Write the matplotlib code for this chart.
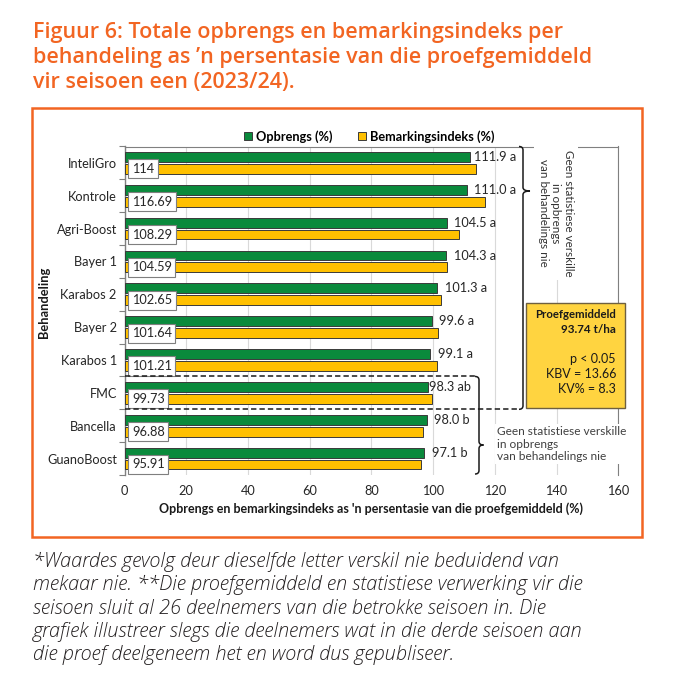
import matplotlib
matplotlib.use("Agg")
import matplotlib.pyplot as plt
from matplotlib.patches import Rectangle, PathPatch
from matplotlib.path import Path
from matplotlib.font_manager import FontProperties
import numpy as np

# ---------------- data ----------------
categories = ["InteliGro", "Kontrole", "Agri-Boost", "Bayer 1", "Karabos 2",
              "Bayer 2", "Karabos 1", "FMC", "Bancella", "GuanoBoost"]
opbrengs = [111.9, 111.0, 104.5, 104.3, 101.3, 99.6, 99.1, 98.3, 98.0, 97.1]
letters = ["a", "a", "a", "a", "a", "a", "a", "ab", "b", "b"]
bemarking = [114, 116.69, 108.29, 104.59, 102.65, 101.64, 101.21, 99.73, 96.88, 95.91]
bemarking_labels = ["114", "116.69", "108.29", "104.59", "102.65", "101.64",
                    "101.21", "99.73", "96.88", "95.91"]
xticks = [0, 20, 40, 60, 80, 100, 120, 140, 160]

title_lines = ["Figuur 6: Totale opbrengs en bemarkingsindeks per",
               "behandeling as \u2019n persentasie van die proefgemiddeld",
               "vir seisoen een (2023/24)."]
foot_lines = ["*Waardes gevolg deur dieselfde letter verskil nie beduidend van",
              "mekaar nie. **Die proefgemiddeld en statistiese verwerking vir die",
              "seisoen sluit al 26 deelnemers van die betrokke seisoen in. Die",
              "grafiek illustreer slegs die deelnemers wat in die derde seisoen aan",
              "die proef deelgeneem het en word dus gepubliseer."]

W, H = 675, 696
ORANGE = "#F26522"
GREEN = "#0A8A3C"
YELLOW = "#FFC000"

plt.rcParams['font.family'] = ['Lato', 'DejaVu Sans']

fig = plt.figure(figsize=(W / 100, H / 100), dpi=100)
renderer = fig.canvas.get_renderer()


def P(x, y):
    return (x / W, 1 - y / H)


def fit_size(text, target_px, **fp):
    prop = FontProperties(size=10, **fp)
    w = renderer.get_text_width_height_descent(text, prop, False)[0]
    return 10 * target_px / w


# orange frame
fig.patches.append(Rectangle(P(32, 537), (642 - 32) / W, (537 - 108) / H,
                             transform=fig.transFigure, fill=False,
                             ec=ORANGE, lw=1.8, zorder=0))

# title
tfp = dict(family=['Open Sans', 'DejaVu Sans'], weight='semibold')
tsize = min(fit_size(title_lines[0], 607 - 34, **tfp), 15.5)
for i, line in enumerate(title_lines):
    fig.text(*P(33, 38 + 25 * i), line, color=ORANGE, fontsize=tsize,
             ha='left', va='baseline', **tfp)

# footnote
ffp = dict(family=['Open Sans', 'DejaVu Sans'], weight='light', style='italic')
fsize = min(fit_size(foot_lines[0], 604 - 34, **ffp), 14.3)
for i, line in enumerate(foot_lines):
    fig.text(*P(33, 567 + 23.3 * i), line, color="#231F20", fontsize=fsize,
             ha='left', va='baseline', **ffp)

# axes
ax_l, ax_r, ax_t, ax_b = 124.5, 618.3, 146.5, 475
ax = fig.add_axes([ax_l / W, 1 - ax_b / H, (ax_r - ax_l) / W, (ax_b - ax_t) / H])

y = np.arange(len(categories))
hb = 0.30
off = 0.18
gb = ax.barh(y - off, opbrengs, height=hb, color=GREEN, edgecolor="#3a3a3a",
             lw=0.7, label="Opbrengs (%)", zorder=3)
yb = ax.barh(y + off, bemarking, height=hb, color=YELLOW, edgecolor="#3a3a3a",
             lw=0.7, label="Bemarkingsindeks (%)", zorder=3)

ax.set_xlim(0, 160)
ax.set_ylim(len(categories) - 0.5, -0.5)
ax.set_xticks(xticks)
ax.set_yticks(y)
ax.set_yticklabels(categories)
ax.set_yticks(np.arange(len(categories) + 1) - 0.5, minor=True)
ax.tick_params(axis='y', which='major', length=0, pad=5.5, labelsize=9.2,
               labelcolor="#262626")
ax.tick_params(axis='y', which='minor', length=4, color="#808080", width=0.8)
ax.tick_params(axis='x', length=0, pad=7, labelsize=9.2, labelcolor="#262626")
ax.grid(axis='x', color="#d9d9d9", lw=0.8, zorder=0)
ax.set_axisbelow(True)
for s in ['top', 'right']:
    ax.spines[s].set_color("#808080")
    ax.spines[s].set_linewidth(0.8)
ax.spines['bottom'].set_visible(False)
ax.spines['left'].set_color("#808080")
ax.spines['left'].set_linewidth(1.0)

ax.set_xlabel("Opbrengs en bemarkingsindeks as 'n persentasie van die proefgemiddeld (%)",
              fontsize=9.0, fontweight='bold', color="#1a1a1a", labelpad=4)
ax.set_ylabel("Behandeling", fontsize=9.3, fontweight='bold', color="#1a1a1a")
ax.yaxis.set_label_coords((50 - ax_l) / (ax_r - ax_l), (ax_b - 302) / (ax_b - ax_t))

# data labels
for i, (v, L) in enumerate(zip(opbrengs, letters)):
    dx = 0.45 if L == "ab" else (1.3 if i == 0 else 2.4)
    ax.text(v + dx, i - off, f"{v:.1f} {L}", fontsize=9.2, color="#262626",
            ha='left', va='center', zorder=5)
for i, lab in enumerate(bemarking_labels):
    ax.text(2.4, i + off, lab, fontsize=9.2, color="#262626", ha='left',
            va='center', zorder=5,
            bbox=dict(boxstyle='square,pad=0.28', fc='white', ec='#7f7f7f', lw=0.8))

# legend
ax.legend(handles=[gb, yb], loc='center', bbox_to_anchor=P(369, 136.5),
          bbox_transform=fig.transFigure, ncol=2, frameon=False,
          handlelength=0.65, handleheight=0.65, handletextpad=0.3,
          columnspacing=2.0, prop={'weight': 'bold', 'size': 9.2},
          borderaxespad=0, borderpad=0)


# braces
def brace(x_s, y_top, y_bot, y_tip, x_tip, rx=1.3, ry=0.11):
    verts = [(x_s - rx, y_top), (x_s, y_top), (x_s, y_top + ry),
             (x_s, y_tip - ry), (x_s, y_tip), (x_tip, y_tip),
             (x_s, y_tip), (x_s, y_tip + ry),
             (x_s, y_bot - ry), (x_s, y_bot), (x_s - rx, y_bot)]
    codes = [Path.MOVETO, Path.CURVE3, Path.CURVE3,
             Path.LINETO, Path.CURVE3, Path.CURVE3,
             Path.CURVE3, Path.CURVE3,
             Path.LINETO, Path.CURVE3, Path.CURVE3]
    ax.add_patch(PathPatch(Path(verts, codes), fill=False, ec='#1a1a1a', lw=1.1,
                           clip_on=False, zorder=6))


def px2x(px):
    return (px - ax_l) / (ax_r - ax_l) * 160


def px2y(py):
    return (py - ax_t) / (ax_b - ax_t) * len(categories) - 0.5


# upper group (solid brace, dashed line at boundary 7.5)
xs1 = px2x(523)
ax.plot([0, xs1 - 1.3], [7.5, 7.5], ls=(0, (3.5, 2)), color='#1a1a1a', lw=1.1,
        clip_on=False, zorder=6)
brace(xs1, -0.5, 7.5, px2y(191), px2x(530))
# lower group
xs2 = px2x(479)
ax.plot([0, xs2 - 1.3], [6.5, 6.5], ls=(0, (3.5, 2)), color='#1a1a1a', lw=1.1,
        clip_on=False, zorder=6)
brace(xs2, 6.5, 9.47, px2y(445), px2x(483.5))

# annotation texts
fig.text(*P(556, 213), "Geen statistiese verskille\nin opbrengs\nvan behandelings nie",
         rotation=-90, ha='center', va='center', multialignment='center',
         fontsize=8.4, color="#333333", linespacing=1.12, zorder=7,
         bbox=dict(boxstyle='square,pad=0.35', fc='white', ec='none'))
fig.text(*P(497, 444), "Geen statistiese verskille\nin opbrengs\nvan behandelings nie",
         ha='left', va='center', fontsize=8.6, color="#404040", linespacing=1.15,
         zorder=7, bbox=dict(boxstyle='square,pad=0.2', fc='white', ec='none'))

# yellow stats box
fig.patches.append(Rectangle(P(526, 408), (625 - 526) / W, (408 - 303) / H,
                             transform=fig.transFigure, fc="#FFD440", ec="#6e6040",
                             lw=1.0, zorder=8))
box_lines = [("Proefgemiddeld", 315, 'bold', 8.2), ("93.74 t/ha", 329.5, 'bold', 8.4),
             ("p < 0.05", 359, 'normal', 9.0), ("KBV = 13.66", 374, 'normal', 9.0),
             ("KV% = 8.3", 389, 'normal', 9.0)]
for txt, yy, wgt, fs in box_lines:
    fig.text(*P(616, yy), txt, ha='right', va='center', fontsize=fs,
             fontweight=wgt, color="#1a1a1a", zorder=9)

fig.savefig("out.png", dpi=100)
